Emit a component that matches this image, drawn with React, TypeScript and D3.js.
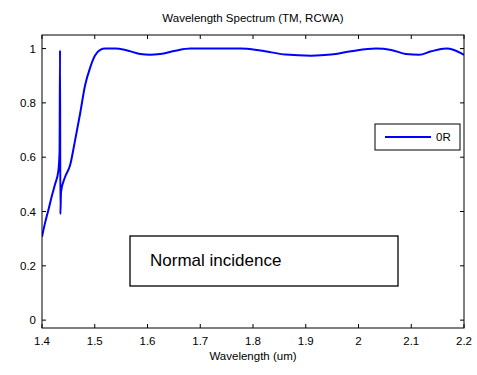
import React from "react";
import * as d3 from "d3";

// Reflectance spectrum (zeroth-order reflection, TM polarisation)
const wavelength = [
  1.4, 1.406, 1.412, 1.419, 1.4247, 1.431, 1.4333, 1.4342, 1.4348, 1.4361, 1.4437, 1.4532,
  1.4627, 1.4722, 1.4817, 1.4913, 1.5008, 1.5103, 1.52, 1.539, 1.558,
  1.586, 1.605, 1.624, 1.653, 1.681, 1.73, 1.776, 1.814, 1.862, 1.91, 1.948,
  1.986, 2.033, 2.062, 2.09, 2.115, 2.138, 2.166, 2.181, 2.2,
];
const reflectance = [
  0.307, 0.36, 0.405, 0.46, 0.5, 0.55, 0.62, 0.994, 0.39, 0.472, 0.527, 0.57,
  0.662, 0.76, 0.865, 0.93, 0.975, 0.995, 1.0, 1.0, 0.995,
  0.98, 0.977, 0.98, 0.992, 1.0, 1.0, 1.0, 0.993, 0.978, 0.974, 0.978,
  0.99, 1.0, 0.995, 0.98, 0.977, 0.99, 1.0, 0.995, 0.977,
];
const xTicks = [1.4, 1.5, 1.6, 1.7, 1.8, 1.9, 2.0, 2.1, 2.2];
const yTicks = [0, 0.2, 0.4, 0.6, 0.8, 1];
const seriesName = "0R";

const W = 477;
const H = 375;
const left = 42;
const right = 464;
const top = 35;
const bottom = 328;
const font = "Liberation Sans, Arial, sans-serif";

export default function App() {
  const x = d3.scaleLinear().domain([1.4, 2.2]).range([left, right]);
  const y = d3.scaleLinear().domain([-0.029, 1.05]).range([bottom, top]);
  const pts: [number, number][] = wavelength.map((w, i) => [w, reflectance[i]]);
  const line = d3
    .line<[number, number]>()
    .x((d) => x(d[0]))
    .y((d) => y(d[1]))
    .curve(d3.curveMonotoneX);
  const tl = 4;
  return (
    <svg width={W} height={H} style={{ position: "absolute", left: 0, top: 0 }}>
      <rect x={0} y={0} width={W} height={H} fill="#fff" />
      <defs>
        <clipPath id="plotArea">
          <rect x={left} y={top} width={right - left} height={bottom - top} />
        </clipPath>
      </defs>
      <text x={(left + right) / 2} y={22} textAnchor="middle" fontFamily={font} fontSize={11.5} fill="#000">
        Wavelength Spectrum (TM, RCWA)
      </text>
      <path d={line(pts) ?? ""} fill="none" stroke="#0000ff" strokeWidth={2} clipPath="url(#plotArea)" strokeLinejoin="round" />
      <rect x={left} y={top} width={right - left} height={bottom - top} fill="none" stroke="#000" strokeWidth={1} />
      {xTicks.map((t) => (
        <g key={"x" + t}>
          <line x1={x(t)} x2={x(t)} y1={bottom} y2={bottom - tl} stroke="#000" />
          <line x1={x(t)} x2={x(t)} y1={top} y2={top + tl} stroke="#000" />
          <text x={x(t)} y={bottom + 17} textAnchor="middle" fontFamily={font} fontSize={11.5} fill="#000">
            {d3.format("~g")(t)}
          </text>
        </g>
      ))}
      {yTicks.map((t) => (
        <g key={"y" + t}>
          <line x1={left} x2={left + tl} y1={y(t)} y2={y(t)} stroke="#000" />
          <line x1={right} x2={right - tl} y1={y(t)} y2={y(t)} stroke="#000" />
          <text x={left - 6} y={y(t) + 4} textAnchor="end" fontFamily={font} fontSize={11.5} fill="#000">
            {d3.format("~g")(t)}
          </text>
        </g>
      ))}
      <text x={(left + right) / 2} y={bottom + 32} textAnchor="middle" fontFamily={font} fontSize={11.5} fill="#000">
        Wavelength (um)
      </text>
      {/* legend */}
      <rect x={375} y={124} width={85} height={26} fill="#fff" stroke="#000" strokeWidth={1} />
      <line x1={385} x2={431} y1={137} y2={137} stroke="#0000ff" strokeWidth={2} />
      <text x={436} y={141} fontFamily={font} fontSize={11.5} fill="#000">
        {seriesName}
      </text>
      {/* annotation */}
      <rect x={130} y={236} width={268} height={50} fill="#fff" stroke="#000" strokeWidth={1.3} />
      <text x={150} y={266} fontFamily={font} fontSize={17} fill="#000">
        Normal incidence
      </text>
    </svg>
  );
}
